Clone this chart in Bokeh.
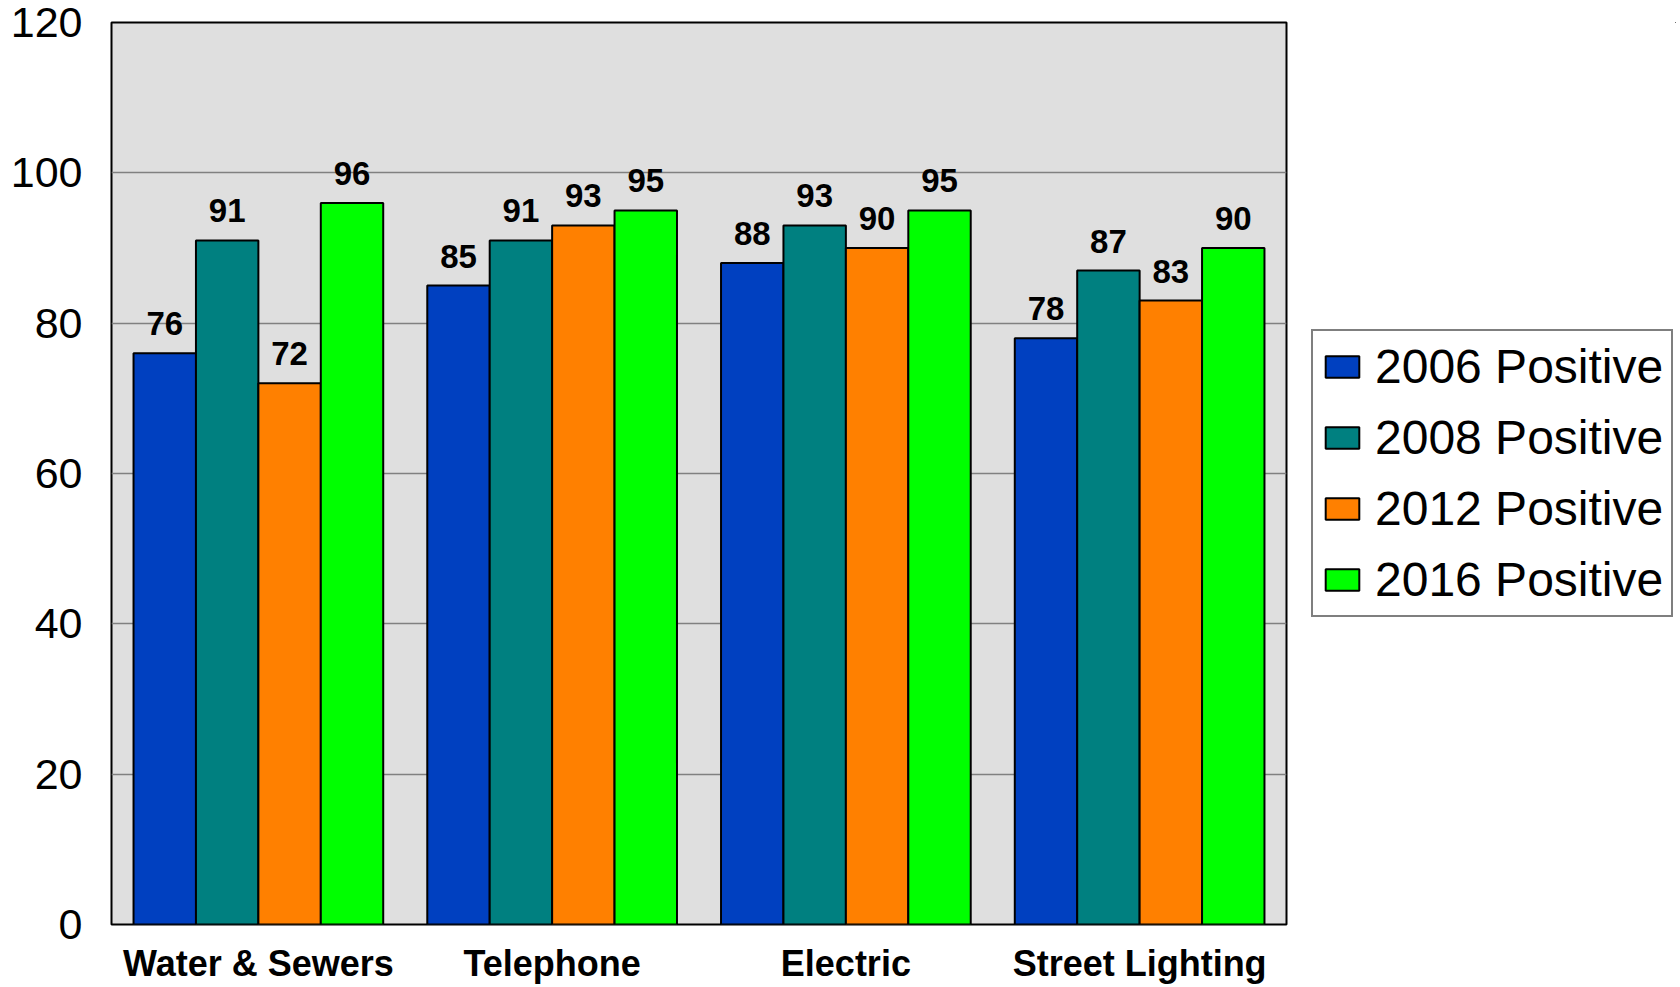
from bokeh.plotting import figure
from bokeh.layouts import row
from bokeh.models import ColumnDataSource, FactorRange, Legend, LegendItem, LabelSet
from bokeh.transform import dodge
from bokeh.core.properties import value
from bokeh.embed import file_html
from bokeh.resources import INLINE

categories = ["Water & Sewers", "Telephone", "Electric", "Street Lighting"]
series_names = ["2006 Positive", "2008 Positive", "2012 Positive", "2016 Positive"]
v2006 = [76, 85, 88, 78]
v2008 = [91, 91, 93, 87]
v2012 = [72, 93, 90, 83]
v2016 = [96, 95, 95, 90]
y_ticks = [0, 20, 40, 60, 80, 100, 120]

colors = ["#0040C0", "#008080", "#FF8000", "#00FF00"]
series_values = [v2006, v2008, v2012, v2016]

FONT = "Liberation Sans"
H = 986

p = figure(width=1296, height=H, x_range=FactorRange(*categories, range_padding=0),
           y_range=(0, 120), output_backend="svg", toolbar_location=None,
           min_border_left=111, min_border_right=10, min_border_top=22, min_border_bottom=58)
p.background_fill_color = "#DFDFDF"
p.border_fill_color = "white"
p.outline_line_color = "black"
p.outline_line_width = 2

bw = 0.2125
offsets = [-1.5 * bw, -0.5 * bw, 0.5 * bw, 1.5 * bw]
for name, vals, col, off in zip(series_names, series_values, colors, offsets):
    src = ColumnDataSource(dict(cat=categories, val=vals, lab=[str(v) for v in vals]))
    p.vbar(x=dodge("cat", off, range=p.x_range), top="val", width=bw, source=src,
           fill_color=col, line_color="black", line_width=2)
    lbl = LabelSet(x=dodge("cat", off, range=p.x_range), y="val", text="lab", source=src,
                   text_align="center", text_baseline="alphabetic", y_offset=18,
                   text_font=value(FONT), text_font_size=value("33px"),
                   text_font_style=value("bold"), text_color="black")
    p.add_layout(lbl)

p.ygrid.grid_line_color = "#808080"
p.ygrid.grid_line_width = 1.5
p.ygrid.ticker = y_ticks
p.xgrid.grid_line_color = None

p.yaxis.ticker = y_ticks
p.yaxis.axis_line_color = None
p.yaxis.major_tick_line_color = None
p.yaxis.minor_tick_line_color = None
p.yaxis.major_tick_out = 0
p.yaxis.major_tick_in = 0
p.yaxis.major_label_standoff = 29
p.yaxis.major_label_text_font = FONT
p.yaxis.major_label_text_font_size = "43px"
p.yaxis.major_label_text_line_height = 1.0
p.yaxis.major_label_text_color = "black"

p.xaxis.axis_line_color = None
p.xaxis.major_tick_line_color = None
p.xaxis.minor_tick_line_color = None
p.xaxis.major_tick_out = 0
p.xaxis.major_tick_in = 0
p.xaxis.major_label_standoff = 18
p.xaxis.major_label_text_font = FONT
p.xaxis.major_label_text_font_size = "36px"
p.xaxis.major_label_text_font_style = "bold"
p.xaxis.major_label_text_color = "black"

# legend panel (its renderers lie outside its own ranges, so only the legend shows)
pl = figure(width=380, height=H, x_range=(0, 1), y_range=(0, 1), output_backend="svg",
            toolbar_location=None, x_axis_location=None, y_axis_location=None,
            min_border=0, outline_line_color=None)
pl.grid.grid_line_color = None
items = []
for name, col in zip(series_names, colors):
    r = pl.vbar(x=[5], top=[5], bottom=[4], width=0.1, fill_color=col,
                line_color="black", line_width=2)
    items.append(LegendItem(label=name, renderers=[r]))
legend = Legend(items=items, location=(15, 307), orientation="vertical",
                label_text_font=FONT, label_text_font_size="48px", label_text_color="black",
                glyph_width=42, glyph_height=27, label_standoff=12,
                padding=8, spacing=16, border_line_color="black", border_line_width=2,
                background_fill_color="white", background_fill_alpha=1.0, margin=0)
pl.add_layout(legend, "center")

layout = row(p, pl)
open("out.html", "w").write(file_html(layout, INLINE))
